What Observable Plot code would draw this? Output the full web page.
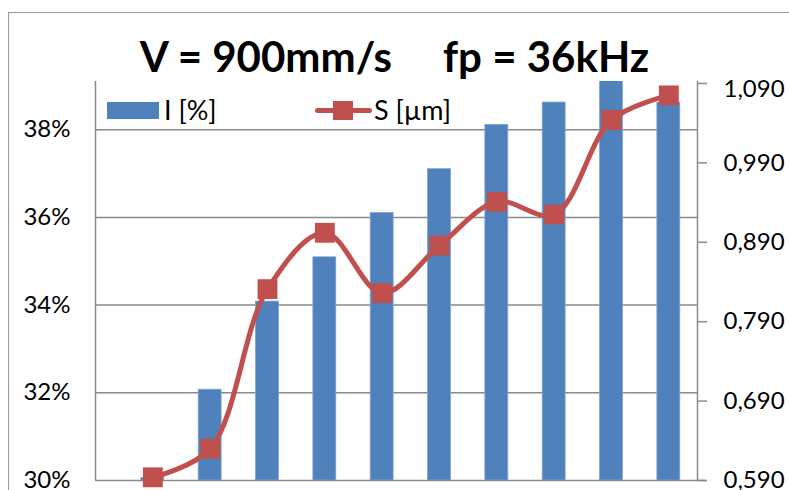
<!DOCTYPE html>
<html>
<head>
<meta charset="utf-8">
<script src="https://cdn.jsdelivr.net/npm/d3@7"></script>
<script src="https://cdn.jsdelivr.net/npm/@observablehq/plot@0.6"></script>
<style>
  html, body { margin: 0; padding: 0; background: #fff; }
  #wrap { position: relative; width: 789px; height: 490px; overflow: hidden; font-family: Lato, "Open Sans", sans-serif; }
  #frame { position: absolute; left: 8px; top: 12px; width: 900px; height: 700px; border: 1.5px solid #9a9a9a; box-sizing: border-box; }
  #chart { position: absolute; left: 0; top: 0; }
  #title { position: absolute; left: 0; top: 35px; width: 789px; text-align: center; font: bold 42px Lato, sans-serif; line-height: 42px; white-space: pre; color: #000; }
  .leg { position: absolute; font: 27px Lato, sans-serif; line-height: 27px; color: #000; white-space: pre; }
  .sw { position: absolute; }
</style>
</head>
<body>
<div id="wrap">
  <div id="frame"></div>
  <div id="chart"></div>
  <div id="title">V = 900mm/s     fp = 36kHz</div>
  <div class="sw" style="left:107px;top:102px;width:52px;height:17px;background:#4F81BD"></div>
  <div class="leg" style="left:164px;top:96px">I [%]</div>
  <div class="sw" style="left:315px;top:108px;width:57px;height:5px;background:#C0504D;border-radius:3px"></div>
  <div class="sw" style="left:333px;top:101px;width:20px;height:19px;background:#C0504D"></div>
  <div class="leg" style="left:374px;top:96px">S [µm]</div>
</div>
<script>
// ---- data ----
const positions = [0, 1, 2, 3, 4, 5, 6, 7, 8, 9];
const intensity = [30.06, 32.07, 34.08, 35.09, 36.1, 37.1, 38.11, 38.62, 39.6, 38.62]; // I [%]
const sValues = [0.594, 0.630, 0.831, 0.902, 0.826, 0.886, 0.941, 0.925, 1.044, 1.075]; // S [µm]
const leftTicks = [30, 32, 34, 36, 38];
const rightTicks = [0.59, 0.69, 0.79, 0.89, 0.99, 1.09];
const leftDomain = [30, 39.1];
const rightDomain = [0.59, 1.0925];

const toLeft = d3.scaleLinear(rightDomain, leftDomain);
const fmtS = d => d3.format(".3f")(d).replace(".", ",");
const rows = positions.map((p, i) => ({p, I: intensity[i], S: sValues[i]}));

const gray = "#8a8a8a";
const red = "#C0504D";
const blue = "#4F81BD";

const plot = Plot.plot({
  width: 789,
  height: 490,
  marginTop: 81,
  marginBottom: 10,
  marginLeft: 95,
  marginRight: 92,
  style: {fontFamily: "Lato, sans-serif", fontSize: "24px", color: "#000", background: "transparent", overflow: "visible"},
  x: {domain: [-1, 9.5], axis: null},
  y: {domain: leftDomain, axis: null},
  marks: [
    Plot.ruleY(leftTicks.filter(t => t > 30), {stroke: gray, strokeWidth: 1.5}),
    Plot.rectY(rows, {x1: d => d.p - 0.2, x2: d => d.p + 0.2, y1: 30, y2: "I", fill: blue, stroke: "#7FA3D1", strokeWidth: 0.8, clip: true}),
    Plot.axisY(leftTicks, {anchor: "left", label: null, tickSize: 0, tickPadding: 25, tickFormat: d => d + "%", fill: "#000", fontSize: 24}),
    Plot.axisY(rightTicks.map(toLeft), {anchor: "right", label: null, tickSize: 9, tickPadding: 17, stroke: gray, strokeWidth: 1.5,
      tickFormat: d => { const v = toLeft.invert(d); return Math.abs(v - 1.09) < 1e-6 ? "" : fmtS(v); }, fill: "#000", fontSize: 24}),
    Plot.text([1.09], {y: d => toLeft(d), frameAnchor: "right", dx: 26, dy: 6, textAnchor: "start", text: d => fmtS(d), fill: "#000", fontSize: 24}),
    Plot.ruleX([-1], {stroke: gray, strokeWidth: 1.5}),
    Plot.ruleX([9.5], {stroke: gray, strokeWidth: 1.5}),
    Plot.ruleY([30], {x1: -1, x2: 9.66, stroke: gray, strokeWidth: 1.5}),
    Plot.line(rows, {x: "p", y: d => toLeft(d.S), curve: "catmull-rom", stroke: red, strokeWidth: 5, clip: true}),
    Plot.dot(rows, {x: "p", y: d => toLeft(d.S), symbol: "square", r: 11.2, fill: red, stroke: "none"})
  ]
});
document.getElementById("chart").appendChild(plot);
</script>
</body>
</html>
